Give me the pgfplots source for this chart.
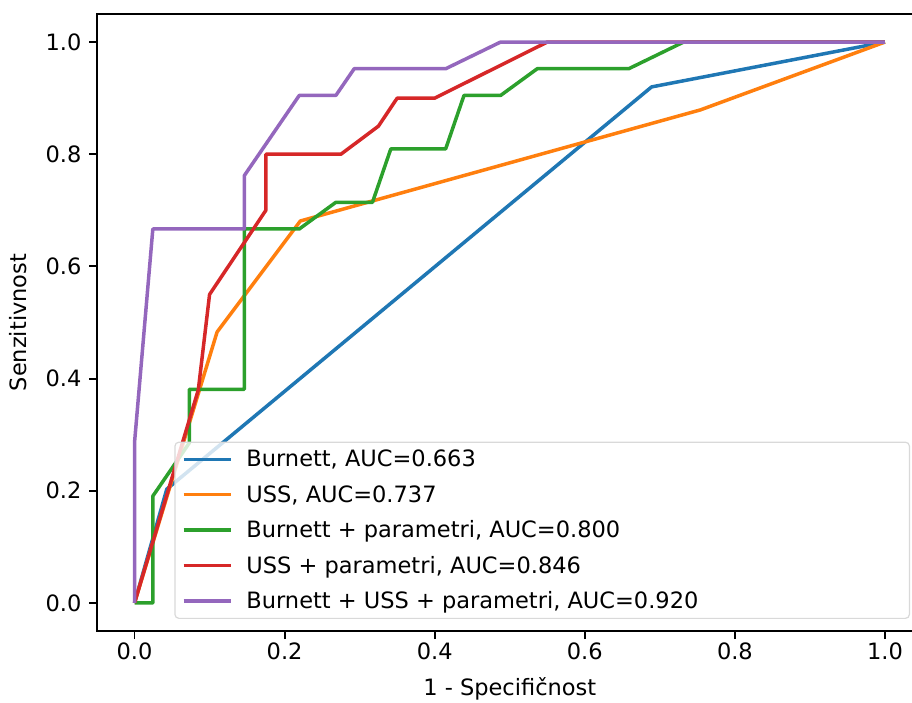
\documentclass[border=0pt]{standalone}
\usepackage{fontspec}
\setmainfont{DejaVu Sans}
\usepackage{pgfplots}
\pgfplotsset{compat=1.18}

\definecolor{c1}{HTML}{1F77B4}
\definecolor{c2}{HTML}{FF7F0E}
\definecolor{c3}{HTML}{2CA02C}
\definecolor{c4}{HTML}{D62728}
\definecolor{c5}{HTML}{9467BD}

\begin{document}
\begin{tikzpicture}
\begin{axis}[
at={(0pt,0pt)}, anchor=south west,
width=825.5pt, height=617pt, scale only axis,
xmin=-0.05, xmax=1.05, ymin=-0.05, ymax=1.05,
xtick={0,0.2,0.4,0.6,0.8,1.0},
ytick={0,0.2,0.4,0.6,0.8,1.0},
/pgf/number format/assume math mode=true,
/pgf/number format/fixed, /pgf/number format/fixed zerofill, /pgf/number format/precision=1,
font=\fontsize{22.5}{27}\selectfont,
tick align=outside,
major tick length=8pt,
every tick/.style={black, line width=1.85pt},
axis line style={line width=1.85pt},
xtick pos=bottom, ytick pos=left,
yticklabel style={xshift=-4pt},
xlabel={1 - Specifičnost},
ylabel={Senzitivnost},
xlabel style={yshift=-11pt},
ylabel style={yshift=12pt},
legend cell align=left,
legend style={at={(0.9849,0.0195)}, anchor=south east,
  draw=black!15, line width=1.2pt, rounded corners=4pt,
  fill=white, fill opacity=0.8, text opacity=1,
  inner xsep=7pt, inner ysep=6pt, row sep=13pt, column sep=12pt,
  font=\fontsize{22.5}{27}\selectfont},
legend image code/.code={\draw[#1, line width=3.5pt] (0pt,0pt) -- (47pt,0pt);},
every axis plot/.append style={line width=3.5pt, line join=round},
]
\addplot[c1] coordinates {(0,0) (0.043,0.203) (0.689,0.920) (1,1)};
\addlegendentry{\makebox[654pt][l]{Burnett, AUC=0.663}}
\addplot[c2] coordinates {(0,0) (0.110,0.483) (0.221,0.681) (0.754,0.879) (1,1)};
\addlegendentry{USS, AUC=0.737}
\addplot[c3] coordinates {(0,0) (0.0244,0) (0.0244,0.1905) (0.0732,0.2857) (0.0732,0.381) (0.1463,0.381) (0.1463,0.6667) (0.2195,0.6667) (0.2683,0.7143) (0.3171,0.7143) (0.3415,0.8095) (0.4146,0.8095) (0.439,0.9048) (0.4878,0.9048) (0.5366,0.9524) (0.6585,0.9524) (0.7317,1) (1,1)};
\addlegendentry{Burnett + parametri, AUC=0.800}
\addplot[c4] coordinates {(0,0) (0.085,0.38) (0.1,0.55) (0.175,0.70) (0.175,0.80) (0.275,0.80) (0.325,0.85) (0.35,0.90) (0.40,0.90) (0.55,1.0) (1,1)};
\addlegendentry{USS + parametri, AUC=0.846}
\addplot[c5] coordinates {(0,0) (0,0.2857) (0.0244,0.6667) (0.1463,0.6667) (0.1463,0.7619) (0.2195,0.9048) (0.2683,0.9048) (0.2927,0.9524) (0.4146,0.9524) (0.4878,1) (1,1)};
\addlegendentry{Burnett + USS + parametri, AUC=0.920}
\end{axis}
\pgfresetboundingbox
\path[use as bounding box] (-97pt,-71pt) rectangle (815pt,631pt);
\end{tikzpicture}
\end{document}
